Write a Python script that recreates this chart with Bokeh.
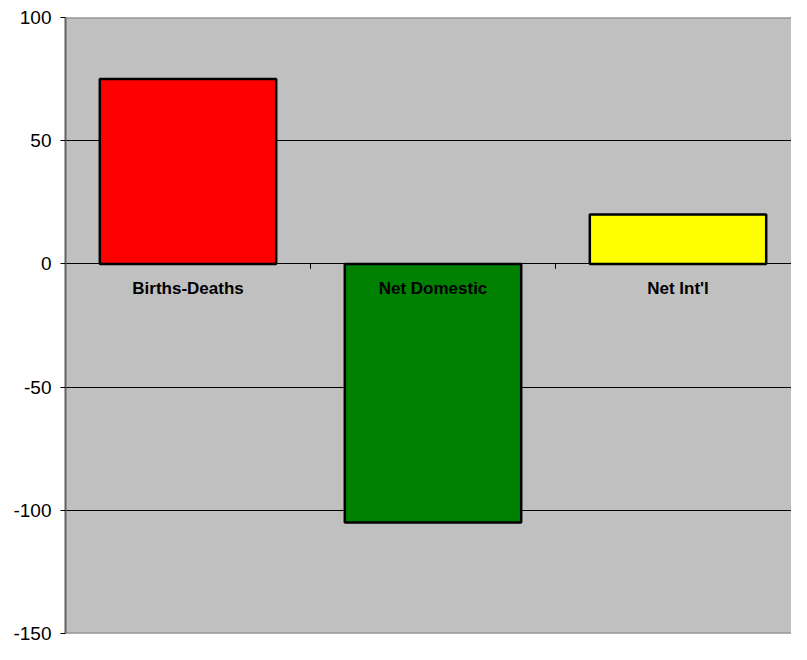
import numpy as np
from bokeh.plotting import figure
from bokeh.models import Range1d, FixedTicker, Span, ColumnDataSource
from bokeh.core.properties import value
from bokeh.embed import file_html
from bokeh.resources import INLINE

categories = ["Births-Deaths", "Net Domestic", "Net Int'l"]
values = [75, -105, 20]
colors = ["#FF0000", "#008000", "#FFFF00"]
y_ticks = [-150, -100, -50, 0, 50, 100]
y_tick_labels = ["-150", "-100", "-50", "0", "50", "100"]

n = len(categories)
xs = np.arange(n) + 0.5

W, H = 791, 644
left, top, bottom = 65, 17, 11
cat_px = 245.0
frame_w = W - left
x_end = frame_w / cat_px

p = figure(width=W, height=H, output_backend="svg", toolbar_location=None,
           x_range=Range1d(0, x_end), y_range=Range1d(-150, 100),
           min_border_left=left, min_border_top=top, min_border_bottom=bottom,
           min_border_right=0)
p.background_fill_color = "#C0C0C0"
p.border_fill_color = "white"
p.outline_line_color = None

p.xaxis.visible = False
p.xgrid.visible = False

yax = p.yaxis[0]
yax.ticker = FixedTicker(ticks=y_ticks)
yax.major_label_overrides = {t: s for t, s in zip(y_ticks, y_tick_labels)}
yax.major_tick_in = 0
yax.major_tick_out = 5
yax.major_tick_line_color = "black"
yax.minor_tick_line_color = None
yax.axis_line_color = "#606060"
yax.axis_line_width = 2
yax.major_label_text_font = "Liberation Sans"
yax.major_label_text_font_size = "19px"
yax.major_label_text_color = "black"
yax.major_label_standoff = 9

p.ygrid.ticker = FixedTicker(ticks=y_ticks)
p.ygrid.grid_line_color = "black"
p.ygrid.grid_line_width = 1

for loc in (p.y_range.start, p.y_range.end):
    p.add_layout(Span(location=loc, dimension="width", line_color="#808080", line_width=2))

src = ColumnDataSource(dict(x=xs, top=values, color=colors, label=categories))
p.vbar(x="x", top="top", bottom=0, width=0.72, fill_color="color",
       line_color="black", line_width=2.5, source=src)

# category boundary ticks below zero line
bx = np.arange(1, n)
p.segment(x0=bx, x1=bx, y0=0, y1=-2, line_color="black", line_width=1)

p.text(x="x", y=0, text="label", source=src, text_align="center",
       text_baseline="middle", y_offset=25, text_font=value("Liberation Sans"),
       text_font_style="bold", text_font_size="17px", text_color="black")

open("out.html", "w").write(file_html(p, INLINE))
